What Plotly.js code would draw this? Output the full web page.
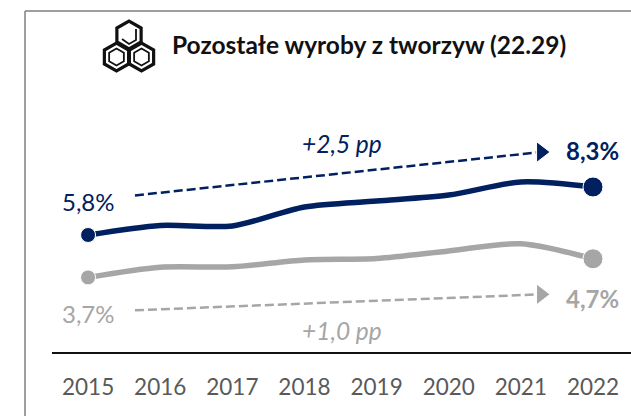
<!DOCTYPE html>
<html><head><meta charset="utf-8">
<script src="https://cdn.plot.ly/plotly-3.0.1.min.js"></script>
<style>html,body{margin:0;padding:0;background:#fff}#c{width:631px;height:416px}</style>
</head><body><div id="c"></div>
<script>
const years=[2015,2016,2017,2018,2019,2020,2021,2022];
const navyValues=[5.8,6.3,6.27,7.26,7.57,7.88,8.56,8.3];
const grayValues=[3.59,4.12,4.14,4.5,4.58,4.97,5.34,4.56];
const navyTrendX=[2015.65,2021.28], navyTrendY=[7.86,10.12];
const grayTrendX=[2015.65,2021.28], grayTrendY=[1.88,2.71];
const NAVY='#002060', GRAY='#A6A6A6';
const W=631,H=416,L=52,R=0,T=100,B=64;
const px=x=>(x-L)/(W-L-R), py=y=>1-(y-T)/(H-T-B);
function hexPath(cx,cy,r){let d='';for(let i=0;i<6;i++){const a=Math.PI/6+i*Math.PI/3;d+=(i?'L':'M')+px(cx+r*Math.cos(a)).toFixed(5)+','+py(cy+r*Math.sin(a)).toFixed(5);}return d+'Z';}
function polyPath(pts){return pts.map((p,i)=>(i?'L':'M')+px(p[0]).toFixed(5)+','+py(p[1]).toFixed(5)).join('');}
const ink='#111111';
function sh(path,w){return {type:'path',xref:'paper',yref:'paper',path:path,line:{color:ink,width:w},fillcolor:'rgba(0,0,0,0)'};}
const shapes=[
 {type:'line',xref:'paper',yref:'paper',x0:px(25),x1:px(631),y0:py(11),y1:py(11),line:{color:'#7f7f7f',width:1.5}},
 {type:'line',xref:'paper',yref:'paper',x0:px(25),x1:px(25),y0:py(11),y1:py(416),line:{color:'#7f7f7f',width:1.5}},
 sh(hexPath(129,35,14),3.2),
 sh(hexPath(116.5,57,14),3.2),
 sh(hexPath(141.5,57,14),3.2),
 sh(hexPath(116.5,57,8.5),1.8),
 sh(hexPath(141.5,57,8.5),1.8),
 sh(polyPath([[122,39],[129,44],[136,40],[136,29]]),1.8)
];
const traces=[
 {x:years,y:grayValues,mode:'lines+markers',line:{color:GRAY,width:5.5,shape:'spline',smoothing:0.8},
  marker:{color:GRAY,opacity:1,size:[15,0,0,0,0,0,0,20]},hoverinfo:'skip'},
 {x:years,y:navyValues,mode:'lines+markers',line:{color:NAVY,width:5.5,shape:'spline',smoothing:0.8},
  marker:{color:NAVY,opacity:1,size:[15,0,0,0,0,0,0,20]},hoverinfo:'skip'},
 {x:navyTrendX,y:navyTrendY,mode:'lines+markers',line:{color:NAVY,width:2.5,dash:'9px,4px'},
  marker:{color:NAVY,opacity:1,symbol:'triangle-right',size:[0,18]},hoverinfo:'skip'},
 {x:grayTrendX,y:grayTrendY,mode:'lines+markers',line:{color:GRAY,width:2.5,dash:'9px,4px'},
  marker:{color:GRAY,opacity:1,symbol:'triangle-right',size:[0,18]},hoverinfo:'skip'}
];
const FONT='Lato, Carlito, sans-serif';
function label(text,x,y,color,size,opts){return Object.assign({xref:'x',yref:'y',x:x,y:y,text:text,showarrow:false,font:{family:FONT,size:size,color:color}},opts||{});}
const annotations=[
 label('5,8%',2015,7.55,NAVY,24),
 label('3,7%',2015,1.72,GRAY,24),
 label('<b>8,3%</b>',2022,10.2,NAVY,24),
 label('<b>4,7%</b>',2022,2.5,GRAY,24),
 label('<i>+2,5 pp</i>',2018.52,10.56,NAVY,24.5),
 label('<i>+1,0 pp</i>',2018.52,0.83,GRAY,24.5),
 {xref:'paper',yref:'paper',x:px(369),y:py(45),yanchor:'middle',xanchor:'center',text:'<b>Pozostałe wyroby z tworzyw (22.29)</b>',showarrow:false,font:{family:FONT,size:24.5,color:'#111111'}}
];
const layout={width:W,height:H,margin:{l:L,r:R,t:T,b:B,pad:0},paper_bgcolor:'#fff',plot_bgcolor:'#fff',showlegend:false,
 xaxis:{range:[2014.5,2022.527],tickmode:'array',tickvals:years,ticktext:years.map(String),showgrid:false,zeroline:false,showline:true,linecolor:'#111',linewidth:2,ticks:'',
  tickfont:{family:FONT,size:22.5,color:'#595959'},ticklabelstandoff:14},
 yaxis:{range:[-0.294,12.83],visible:false,showgrid:false,zeroline:false},
 shapes:shapes,annotations:annotations};
Plotly.newPlot('c',traces,layout,{staticPlot:true,displayModeBar:false});
</script></body></html>
